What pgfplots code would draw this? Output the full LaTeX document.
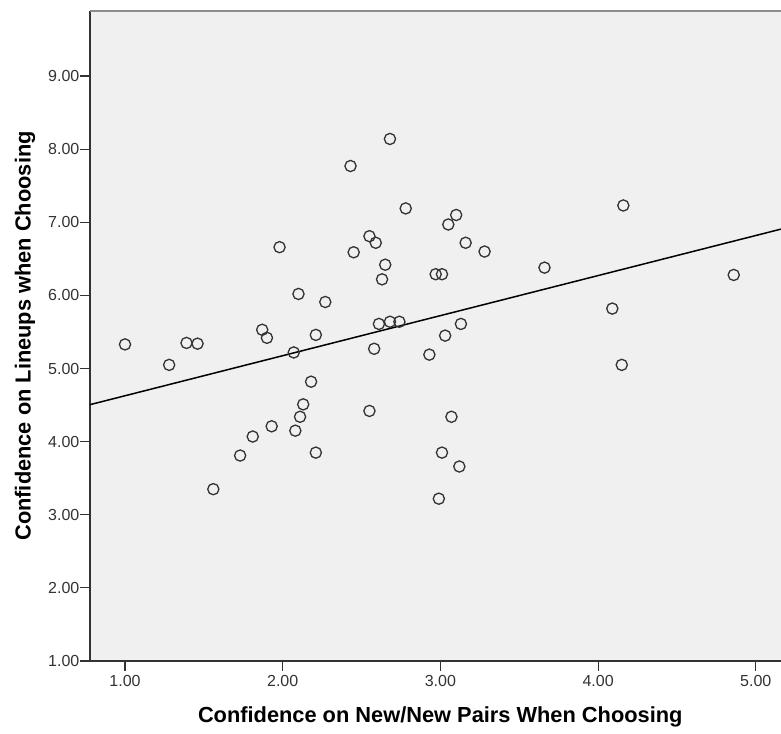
\documentclass[border=0pt]{standalone}
\usepackage{fontspec}
\setmainfont{Liberation Sans}
\usepackage{pgfplots}
\pgfplotsset{compat=1.18}
\definecolor{bg}{HTML}{F0F0F0}
\definecolor{axc}{HTML}{333333}
\definecolor{topc}{HTML}{8C8C8C}
\begin{document}
\begin{tikzpicture}
\begin{axis}[
  scale only axis, width=700.5pt, height=650pt,
  xmin=0.778, xmax=5.22, ymin=1, ymax=9.89,
  axis x line*=bottom, axis y line*=left,
  axis line style={axc, line width=1.5pt, -},
  axis background/.style={fill=bg},
  xtick={1,2,3,4,5}, ytick={1,2,3,4,5,6,7,8,9},
  tick style={axc, line width=1.2pt},
  tick align=outside, major tick length=9.5pt,
  /pgf/number format/fixed, /pgf/number format/fixed zerofill,
  /pgf/number format/precision=2, /pgf/number format/assume math mode=true,
  ticklabel style={font=\fontsize{16}{18}\selectfont, text=axc},
  yticklabel style={inner sep=1pt},
  xticklabel style={yshift=-1pt},
  xlabel={Confidence on New/New Pairs When Choosing},
  ylabel={Confidence on Lineups when Choosing},
  label style={font=\bfseries\fontsize{21.8}{24}\selectfont, text=black},
  xlabel style={at={(axis description cs:0.5,-0.0862)}, anchor=center},
  ylabel style={at={(axis description cs:-0.0928,0.5)}, anchor=center},
  clip=false,
]
\coordinate (O) at (rel axis cs:0,0);
\draw[topc, line width=2pt] (rel axis cs:0,1) -- (rel axis cs:1,1);
\addplot[only marks, mark=o, mark size=5.6pt, mark options={axc, line width=1.3pt}] coordinates {
(1.00,5.33) (1.28,5.05) (1.39,5.35) (1.46,5.34) (1.56,3.35) (1.73,3.81)
(1.81,4.07) (1.87,5.53) (1.90,5.42) (1.93,4.21) (1.98,6.66) (2.07,5.22)
(2.08,4.15) (2.10,6.02) (2.11,4.34) (2.13,4.51) (2.18,4.82) (2.21,3.85)
(2.21,5.46) (2.27,5.91) (2.43,7.77) (2.45,6.59) (2.55,6.81) (2.55,4.42)
(2.59,6.72) (2.58,5.27) (2.65,6.42) (2.63,6.22) (2.61,5.61) (2.68,8.14)
(2.68,5.64) (2.74,5.64) (2.78,7.19) (2.93,5.19) (2.97,6.29) (3.01,6.29)
(2.99,3.22) (3.01,3.85) (3.03,5.45) (3.05,6.97) (3.07,4.34) (3.10,7.10)
(3.12,3.66) (3.13,5.61) (3.16,6.72) (3.28,6.60) (3.66,6.38) (4.09,5.82)
(4.15,5.05) (4.16,7.23) (4.86,6.28)
};
\addplot[black, line width=1.5pt] coordinates {(0.778,4.506) (5.22,6.94)};
\end{axis}
\pgfresetboundingbox
\path ([shift={(-90pt,-72pt)}]O) rectangle ++(781pt,733pt);
\end{tikzpicture}
\end{document}
